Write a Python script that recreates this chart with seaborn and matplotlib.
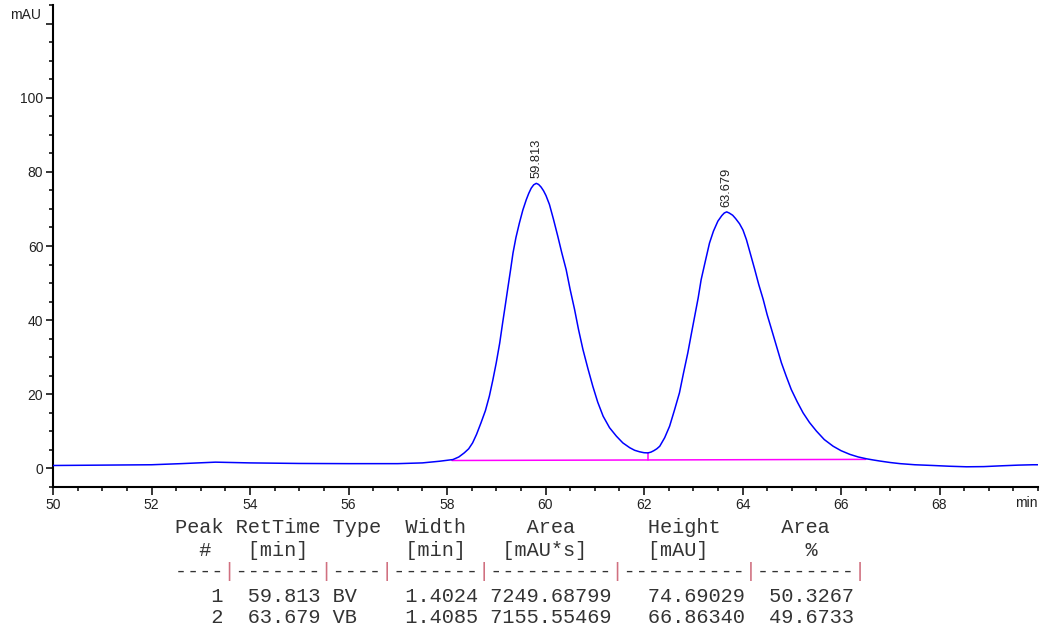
import numpy as np
import pandas as pd
import matplotlib
matplotlib.use("Agg")
import matplotlib.pyplot as plt
from matplotlib.ticker import MultipleLocator, FixedLocator
import seaborn as sns

# Detector trace: retention time (min) and absorbance (mAU)
time_min = [
    50.00, 51.00, 52.00, 52.60, 53.30, 54.00, 55.00, 56.00, 57.00, 57.50,
    57.85, 58.12, 58.24, 58.35, 58.44, 58.52, 58.60, 58.69, 58.78, 58.86,
    58.93, 59.00, 59.07, 59.13, 59.18, 59.23, 59.29, 59.34, 59.40, 59.47,
    59.54, 59.61, 59.66, 59.71, 59.76, 59.813, 59.86, 59.91, 59.96, 60.01,
    60.08, 60.16, 60.25, 60.33, 60.42, 60.50, 60.59, 60.67, 60.76, 60.86,
    60.96, 61.06, 61.17, 61.30, 61.44, 61.57, 61.71, 61.81, 61.91, 62.00,
    62.08, 62.14, 62.20, 62.26, 62.32, 62.42, 62.52, 62.62, 62.72, 62.80,
    62.89, 62.96, 63.03, 63.10, 63.16, 63.24, 63.33, 63.41, 63.50, 63.58,
    63.63, 63.679, 63.73, 63.80, 63.86, 63.94, 64.01, 64.08, 64.16, 64.25,
    64.33, 64.42, 64.50, 64.59, 64.69, 64.79, 64.89, 64.99, 65.11, 65.23,
    65.36, 65.50, 65.66, 65.84, 66.00, 66.18, 66.35, 66.52, 66.65, 66.79,
    67.00, 67.20, 67.50, 67.87, 68.20, 68.55, 68.90, 69.23, 69.60, 69.90,
    70.00,
]
signal_mau = [
    0.80, 0.90, 1.00, 1.30, 1.70, 1.50, 1.35, 1.30, 1.30, 1.50,
    1.95, 2.40, 3.10, 4.20, 5.30, 6.90, 9.20, 12.30, 15.60, 19.50,
    23.80, 28.50, 33.80, 39.30, 43.70, 48.20, 53.50, 58.10, 62.30, 66.20,
    69.70, 72.50, 74.20, 75.60, 76.50, 76.90, 76.60, 75.90, 74.90, 73.60,
    71.20, 67.30, 62.60, 58.20, 53.60, 48.30, 42.90, 37.50, 32.10, 27.00,
    22.20, 17.90, 14.10, 11.00, 8.70, 6.90, 5.60, 4.90, 4.50, 4.25,
    4.20, 4.40, 4.80, 5.30, 6.00, 8.30, 11.40, 15.80, 20.40, 25.60,
    31.20, 36.20, 41.10, 46.00, 50.90, 55.60, 60.80, 64.00, 66.70, 68.20,
    68.90, 69.20, 68.90, 68.30, 67.40, 66.00, 64.30, 61.70, 57.90, 53.60,
    49.60, 45.60, 41.50, 37.50, 33.00, 28.50, 24.80, 21.30, 18.00, 15.00,
    12.40, 10.10, 7.80, 6.00, 4.80, 3.80, 3.10, 2.60, 2.30, 2.00,
    1.60, 1.30, 1.00, 0.80, 0.60, 0.45, 0.50, 0.70, 0.90, 1.00,
    1.00,
]

# Integration results
peak_no = [1, 2]
ret_time = [59.813, 63.679]
peak_type = ["BV", "VB"]
width_min = [1.4024, 1.4085]
area_mau_s = [7249.68799, 7155.55469]
height_mau = [74.69029, 66.86340]
area_pct = [50.3267, 49.6733]

# Integration baseline and valley drop line
baseline_t = [58.10, 66.50]
baseline_v = [2.15, 2.45]
valley_t = 62.08
valley_v = 4.20

# Axis ticks
x_ticks = [50, 52, 54, 56, 58, 60, 62, 64, 66, 68]
y_ticks = [0, 20, 40, 60, 80, 100, 120]
y_tick_labels = ["0", "20", "40", "60", "80", "100", ""]

sns.set_theme(style="ticks")
plt.rcParams["font.family"] = ["Liberation Sans", "DejaVu Sans"]

W, H = 1040, 634
fig = plt.figure(figsize=(W / 100, H / 100), dpi=100)
fig.patch.set_facecolor("white")
ax = fig.add_axes([53 / W, 1 - 487 / H, 985 / W, 482 / H])
ax.set_facecolor("white")

trace = pd.DataFrame({"time": time_min, "signal": signal_mau})
sns.lineplot(data=trace, x="time", y="signal", color="#0000ff",
             linewidth=1.1, errorbar=None, ax=ax, zorder=3)

# baseline under the peaks and drop line at the valley
ax.plot(baseline_t, baseline_v, color="#ff00ff", linewidth=1.1, zorder=2)
drop_base = np.interp(valley_t, baseline_t, baseline_v)
ax.plot([valley_t, valley_t], [drop_base, valley_v], color="#ff00ff",
        linewidth=1.1, zorder=2)

# retention time labels above each apex
for rt in ret_time:
    apex = np.interp(rt, time_min, signal_mau)
    ax.annotate(f"{rt:.3f}", xy=(rt, apex), xytext=(0, 3.5),
                textcoords="offset points", rotation=90, ha="center",
                va="bottom", fontsize=9.3, color="#222222")

ax.set_xlim(50, 70)
ax.set_ylim(-5, 125)
ax.set_xlabel("")
ax.set_ylabel("")

ax.xaxis.set_major_locator(FixedLocator(x_ticks))
ax.set_xticklabels([str(v) for v in x_ticks])
ax.xaxis.set_minor_locator(MultipleLocator(0.5))
ax.yaxis.set_major_locator(FixedLocator(y_ticks))
ax.set_yticklabels(y_tick_labels)
ax.yaxis.set_minor_locator(MultipleLocator(5))

for side in ("top", "right"):
    ax.spines[side].set_visible(False)
for side in ("left", "bottom"):
    ax.spines[side].set_color("black")
    ax.spines[side].set_linewidth(1.5)

ax.tick_params(axis="x", which="major", direction="out", length=5.8,
               width=1.1, color="black", pad=2, labelsize=10,
               labelcolor="#222222")
ax.tick_params(axis="x", which="minor", direction="out", length=3.2,
               width=1.1, color="black")
ax.tick_params(axis="y", which="major", direction="out", length=5.0,
               width=1.1, color="black", pad=2, labelsize=10,
               labelcolor="#222222")
ax.tick_params(axis="y", which="minor", direction="out", length=2.6,
               width=1.1, color="black")

# unit labels
fig.text(26 / W, 1 - 15 / H, "mAU", ha="center", va="center",
         fontsize=10, color="#222222")
fig.text(1038 / W, 1 - 503 / H, "min", ha="right", va="center",
         fontsize=10, color="#222222")

# integration report table in fixed-width text
mono = ["Liberation Mono", "DejaVu Sans Mono"]
x0 = 175 / W
fs = 14.6
header1 = "Peak RetTime Type  Width     Area      Height     Area  "
header2 = "  #   [min]        [min]   [mAU*s]     [mAU]        %   "
rule = "----|-------|----|-------|----------|----------|--------|"
rule_dashes = "".join(" " if c == "|" else c for c in rule)
rule_pipes = "".join(c if c == "|" else " " for c in rule)

rows = []
for n, rt, tp, w, a, h, p in zip(peak_no, ret_time, peak_type, width_min,
                                 area_mau_s, height_mau, area_pct):
    rows.append(f"{n:>4d}  {rt:6.3f} {tp:<4s} {w:7.4f} {a:10.5f} "
                f"{h:10.5f} {p:8.4f}")

text_kw = dict(ha="left", va="baseline", fontsize=fs, family=mono,
               color="#333333")
fig.text(x0, 1 - 533 / H, header1, **text_kw)
fig.text(x0, 1 - 556 / H, header2, **text_kw)
fig.text(x0, 1 - 577 / H, rule_dashes, **text_kw)
fig.text(x0, 1 - 577 / H, rule_pipes,
         **{**text_kw, "color": "#d07080"})
fig.text(x0, 1 - 601.5 / H, rows[0], **text_kw)
fig.text(x0, 1 - 623 / H, rows[1], **text_kw)

fig.savefig("out.png", dpi=100, facecolor="white")
